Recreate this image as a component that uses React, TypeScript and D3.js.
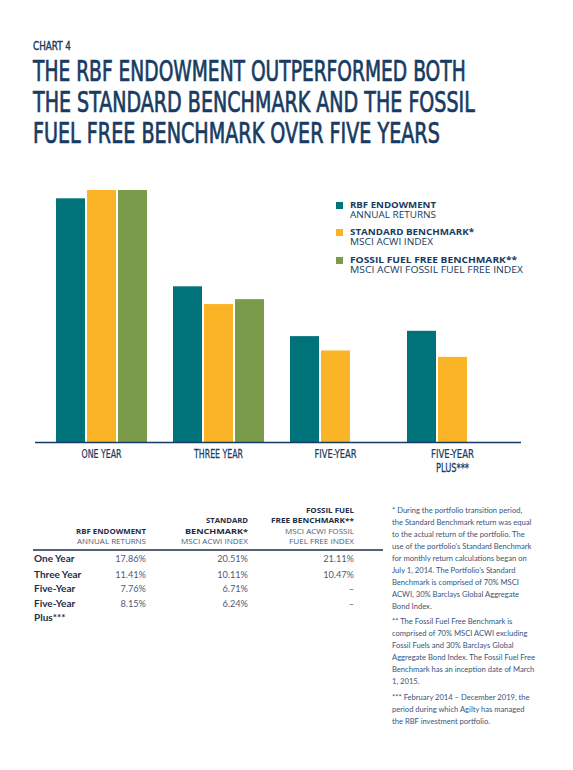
import * as d3 from "d3";
import React, { useEffect, useRef } from "react";

const categories = ["ONE YEAR", "THREE YEAR", "FIVE-YEAR", "FIVE-YEAR PLUS***"];
const seriesNames = ["rbf", "standard", "fossilFree"];
const rbfValues = [17.86, 11.41, 7.76, 8.15];
const standardValues = [20.51, 10.11, 6.71, 6.24];
const fossilFreeValues: (number | null)[] = [21.11, 10.47, null, null];

const legendTitles = ["RBF ENDOWMENT", "STANDARD BENCHMARK*", "FOSSIL FUEL FREE BENCHMARK**"];
const legendSubs = ["ANNUAL RETURNS", "MSCI ACWI INDEX", "MSCI ACWI FOSSIL FUEL FREE INDEX"];

const rowLabels = [["One Year"], ["Three Year"], ["Five-Year"], ["Five-Year", "Plus***"]];
const fmt = (v: number | null) => (v == null ? "–" : v.toFixed(2) + "%");

const footnotes = [
  [
    "* During the portfolio transition period,",
    "the Standard Benchmark return was equal",
    "to the actual return of the portfolio. The",
    "use of the portfolio’s Standard Benchmark",
    "for monthly return calculations began on",
    "July 1, 2014. The Portfolio’s Standard",
    "Benchmark is comprised of 70% MSCI",
    "ACWI, 30% Barclays Global Aggregate",
    "Bond Index.",
  ],
  [
    "** The Fossil Fuel Free Benchmark is",
    "comprised of 70% MSCI ACWI excluding",
    "Fossil Fuels and 30% Barclays Global",
    "Aggregate Bond Index. The Fossil Fuel Free",
    "Benchmark has an inception date of March",
    "1, 2015.",
  ],
  [
    "*** February 2014 – December 2019, the",
    "period during which Agilty has managed",
    "the RBF investment portfolio.",
  ],
];

const colors = ["#00727a", "#fbb426", "#7a9b49"];
const navy = "#173b62";
const condensed = "'DejaVu Sans Condensed', 'Liberation Sans Narrow', sans-serif";

// testo stretto in orizzontale fino alla larghezza voluta
function squeeze(
  g: d3.Selection<SVGGElement, unknown, null, undefined>,
  str: string,
  x: number,
  y: number,
  w: number,
  size: number,
  anchor = "start",
) {
  const t = g
    .append("text")
    .attr("font-size", size)
    .attr("text-anchor", anchor)
    .text(str);
  const natural = (t.node() as SVGTextElement).getComputedTextLength() || w;
  t.attr("transform", `translate(${x},${y}) scale(${w / natural},1)`);
  return t;
}

const App: React.FC = () => {
  const svgRef = useRef<SVGSVGElement | null>(null);

  useEffect(() => {
    const svg = d3.select(svgRef.current);
    svg.selectAll("*").remove();
    const width = 573;
    const height = 770;
    svg.attr("width", width).attr("height", height);

    // titolo
    const head = svg
      .append("g")
      .attr("font-family", condensed)
      .attr("fill", navy)
      .attr("stroke", navy)
      .attr("stroke-width", 0.7);
    squeeze(head, "CHART 4", 33, 50, 38, 12.5).attr("stroke-width", 0.4);
    const titleLines = [
      ["THE RBF ENDOWMENT OUTPERFORMED BOTH", 80.5, 433],
      ["THE STANDARD BENCHMARK AND THE FOSSIL", 111.5, 442],
      ["FUEL FREE BENCHMARK OVER FIVE YEARS", 142.5, 407],
    ] as const;
    titleLines.forEach((d) => squeeze(head, d[0], 33, d[1], d[2], 28));

    // scale
    const x = d3
      .scaleBand<string>()
      .domain(categories)
      .range([56, 56 + 117 * (4 - 26 / 117)])
      .paddingInner(26 / 117)
      .paddingOuter(0);
    const xs = d3
      .scaleBand<string>()
      .domain(seriesNames)
      .range([0, x.bandwidth()])
      .paddingInner(2 / 31);
    const y = d3.scaleLinear().domain([0, 18.47]).range([442, 190]).clamp(true);

    const bars = categories.flatMap((c, i) =>
      [rbfValues[i], standardValues[i], fossilFreeValues[i]]
        .map((v, s) => ({ c, s, v }))
        .filter((d) => d.v != null),
    );

    svg
      .append("g")
      .selectAll("rect")
      .data(bars)
      .join("rect")
      .attr("x", (d) => x(d.c)! + xs(seriesNames[d.s])!)
      .attr("y", (d) => y(d.v as number))
      .attr("width", xs.bandwidth())
      .attr("height", (d) => y(0) - y(d.v as number))
      .attr("fill", (d) => colors[d.s]);

    // asse
    svg
      .append("line")
      .attr("x1", 35)
      .attr("x2", 521)
      .attr("y1", y(0) + 0.5)
      .attr("y2", y(0) + 0.5)
      .attr("stroke", navy)
      .attr("stroke-width", 1.6);

    const labelWidths = [40, 49, 42, 43];
    const axisLabels = svg
      .append("g")
      .attr("font-family", condensed)
      .attr("fill", navy)
      .attr("stroke", navy)
      .attr("stroke-width", 0.25);
    categories.forEach((d, i) => {
      const cx = x(d)! + x.bandwidth() / 2;
      const parts = d === "FIVE-YEAR PLUS***" ? ["FIVE-YEAR", "PLUS***"] : [d];
      parts.forEach((p, j) =>
        squeeze(axisLabels, p, cx, 458 + j * 14, j === 0 ? labelWidths[i] : 33, 12.5, "middle"),
      );
    });

    // legenda
    const legendY = [202, 229, 257];
    const titleW = [86, 124, 167];
    const subW = [86, 83, 173];
    const lg = svg
      .append("g")
      .selectAll("g")
      .data(legendTitles)
      .join("g")
      .attr("transform", (_, i) => `translate(336,${legendY[i]})`);
    lg.append("rect")
      .attr("width", 7)
      .attr("height", 7)
      .attr("fill", (_, i) => colors[i]);
    lg.append("text")
      .attr("x", 14)
      .attr("y", 6)
      .attr("font-family", "'Open Sans', sans-serif")
      .attr("font-weight", "bold")
      .attr("font-size", 8.5)
      .attr("fill", navy)
      .attr("textLength", (_, i) => titleW[i])
      .attr("lengthAdjust", "spacingAndGlyphs")
      .text((d) => d);
    lg.append("text")
      .attr("x", 14)
      .attr("y", 16)
      .attr("font-family", "'Open Sans', sans-serif")
      .attr("font-size", 8.3)
      .attr("fill", navy)
      .attr("textLength", (_, i) => subW[i])
      .attr("lengthAdjust", "spacingAndGlyphs")
      .text((_, i) => legendSubs[i]);

    // tabella
    const colRight = [146, 248, 354];
    const headers = [
      [
        ["RBF ENDOWMENT", 534, 70, true],
        ["ANNUAL RETURNS", 544, 69, false],
      ],
      [
        ["STANDARD", 523, 42, true],
        ["BENCHMARK*", 534, 63, true],
        ["MSCI ACWI INDEX", 544, 67, false],
      ],
      [
        ["FOSSIL FUEL", 513, 48, true],
        ["FREE BENCHMARK**", 523, 83, true],
        ["MSCI ACWI FOSSIL", 534, 69, false],
        ["FUEL FREE INDEX", 544, 65, false],
      ],
    ] as const;
    headers.forEach((col, ci) => {
      svg
        .append("g")
        .selectAll("text")
        .data(col)
        .join("text")
        .attr("x", colRight[ci])
        .attr("y", (d) => d[1])
        .attr("text-anchor", "end")
        .attr("font-family", "'Open Sans', sans-serif")
        .attr("font-weight", (d) => (d[3] ? "bold" : "normal"))
        .attr("font-size", 7)
        .attr("fill", (d) => (d[3] ? "#1d2d4a" : "#4a5d78"))
        .attr("textLength", (d) => d[2])
        .attr("lengthAdjust", "spacingAndGlyphs")
        .text((d) => d[0]);
    });

    svg
      .append("line")
      .attr("x1", 33)
      .attr("x2", 383)
      .attr("y1", 550)
      .attr("y2", 550)
      .attr("stroke", "#1d2d4a")
      .attr("stroke-width", 1.4);

    const rowY = [562, 578, 592, 607];
    const rows = svg
      .append("g")
      .selectAll("g")
      .data(rowLabels)
      .join("g")
      .attr("transform", (_, i) => `translate(0,${rowY[i]})`);
    rows
      .append("text")
      .attr("x", 34)
      .attr("font-family", "Lato, sans-serif")
      .attr("font-weight", "bold")
      .attr("font-size", 10)
      .attr("fill", "#1d2d4a")
      .each(function (d) {
        d.forEach((p, j) =>
          d3.select(this).append("tspan").attr("x", 34).attr("y", j * 14).text(p),
        );
      });
    const seriesValues = [rbfValues, standardValues, fossilFreeValues];
    seriesValues.forEach((vals, ci) => {
      rows
        .append("text")
        .attr("x", colRight[ci])
        .attr("text-anchor", "end")
        .attr("font-family", "Lato, sans-serif")
        .attr("font-size", 9.2)
        .attr("fill", "#4a5d78")
        .text((_, i) => fmt(vals[i]));
    });

    // note
    const noteStart = [513, 624, 700];
    footnotes.forEach((lines, k) => {
      svg
        .append("g")
        .selectAll("text")
        .data(lines)
        .join("text")
        .attr("x", 392)
        .attr("y", (_, i) => noteStart[k] + i * 12)
        .attr("font-family", "Lato, sans-serif")
        .attr("font-size", 7.6)
        .attr("fill", "#3a5478")
        .text((d) => d);
    });
  }, []);

  return (
    <svg
      ref={svgRef}
      style={{ position: "absolute", left: 0, top: 0, background: "#fff" }}
    />
  );
};

export default App;
